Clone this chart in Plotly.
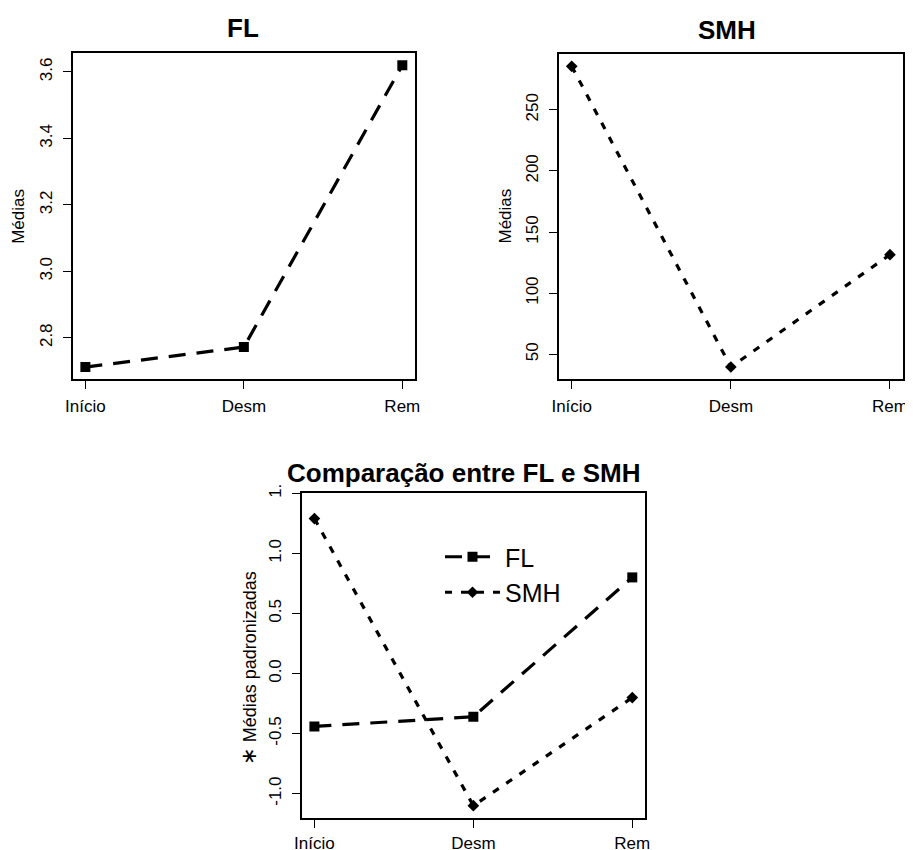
import plotly.graph_objects as go

# ---- data ----
categories = ["Início", "Desm", "Rem"]
fl_means = [2.712, 2.772, 3.620]
smh_means = [285.6, 39.6, 131.5]
fl_std = [-0.44, -0.36, 0.80]
smh_std = [1.29, -1.10, -0.20]

fl_ticks = [2.8, 3.0, 3.2, 3.4, 3.6]
fl_ticklabels = ["2.8", "3.0", "3.2", "3.4", "3.6"]
smh_ticks = [50, 100, 150, 200, 250]
smh_ticklabels = ["50", "100", "150", "200", "250"]
cmp_ticks = [-1.0, -0.5, 0.0, 0.5, 1.0, 1.5]
cmp_ticklabels = ["-1.0", "-0.5", "0.0", "0.5", "1.0", "1."]

# page body has a default 8px margin; size the figure so it fills the window
OFF = 8
W, H = 913 - OFF, 850 - OFF
FONT = "Liberation Sans, Arial, Helvetica, sans-serif"

def px_x(p):
    return (p - OFF) / W

def px_y(p):
    return 1 - (p - OFF) / H

FL_DASH = "17px,11px"
SMH_DASH = "7px,9px"
LW = 3.2

fig = go.Figure()

x_idx = [1, 2, 3]

fig.add_trace(go.Scatter(
    x=x_idx, y=fl_means, xaxis="x", yaxis="y", mode="lines+markers",
    line=dict(color="black", width=LW, dash=FL_DASH),
    marker=dict(symbol="square", size=10, color="black"), showlegend=False))
fig.add_trace(go.Scatter(
    x=x_idx, y=smh_means, xaxis="x2", yaxis="y2", mode="lines+markers",
    line=dict(color="black", width=LW, dash=SMH_DASH),
    marker=dict(symbol="diamond", size=9, color="black"), showlegend=False))
fig.add_trace(go.Scatter(
    x=x_idx, y=fl_std, xaxis="x3", yaxis="y3", mode="lines+markers", name="FL",
    line=dict(color="black", width=LW, dash=FL_DASH),
    marker=dict(symbol="square", size=10, color="black"), showlegend=True))
fig.add_trace(go.Scatter(
    x=x_idx, y=smh_std, xaxis="x3", yaxis="y3", mode="lines+markers", name="SMH",
    line=dict(color="black", width=LW, dash=SMH_DASH),
    marker=dict(symbol="diamond", size=9, color="black"), showlegend=True))

def xaxis(domain, anchor, standoff=3):
    return dict(domain=domain, anchor=anchor, range=[0.92, 3.08], automargin=False,
                tickmode="array", tickvals=x_idx, ticktext=categories,
                ticks="outside", ticklen=8, tickwidth=1.3, tickcolor="black",
                showline=True, linecolor="black", linewidth=1.6, mirror=True,
                showgrid=False, zeroline=False, ticklabelstandoff=standoff,
                tickfont=dict(family=FONT, size=17, color="black"))

def yaxis(domain, anchor, rng, tv, tt):
    return dict(domain=domain, anchor=anchor, range=rng, automargin=False,
                tickmode="array", tickvals=tv, ticktext=tt, tickangle=-90,
                ticks="outside", ticklen=8, tickwidth=1.3, tickcolor="black",
                showline=True, linecolor="black", linewidth=1.6, mirror=True,
                showgrid=False, zeroline=False, ticklabelstandoff=4,
                tickfont=dict(family=FONT, size=17, color="black"))

fig.update_layout(
    width=W, height=H, margin=dict(l=0, r=0, t=0, b=0, autoexpand=False),
    paper_bgcolor="white", plot_bgcolor="white",
    xaxis=xaxis([px_x(72.7), px_x(415)], "y"),
    yaxis=yaxis([px_y(379), px_y(53.3)], "x", [2.676, 3.656], fl_ticks, fl_ticklabels),
    xaxis2=xaxis([px_x(559), px_x(902.7)], "y2"),
    yaxis2=yaxis([px_y(379), px_y(54.3)], "x2", [29.8, 295.4], smh_ticks, smh_ticklabels),
    xaxis3=xaxis([px_x(301.7), px_x(645)], "y3", standoff=1),
    yaxis3=yaxis([px_y(817.7), px_y(493.3)], "x3", [-1.2, 1.5], cmp_ticks, cmp_ticklabels),
    legend=dict(x=px_x(440), y=px_y(534), xanchor="left", yanchor="top",
                bgcolor="rgba(0,0,0,0)", borderwidth=0, tracegroupgap=0,
                itemwidth=55,
                font=dict(family=FONT, size=25, color="black")),
    showlegend=True,
)

def ann(text, x, y, size, bold=False, angle=0):
    fig.add_annotation(text=f"<b>{text}</b>" if bold else text,
                       x=px_x(x), y=px_y(y), xref="paper", yref="paper",
                       showarrow=False, textangle=angle,
                       xanchor="center", yanchor="middle",
                       font=dict(family=FONT, size=size, color="black"))

ann("FL", 243, 28, 26, bold=True)
ann("SMH", 727, 30, 26, bold=True)
ann("Comparação entre FL e SMH", 464, 473, 26, bold=True)
ann("Médias", 18.3, 216.5, 17, angle=-90)
ann("Médias", 505, 216.5, 17, angle=-90)
ann('<span style="font-size:21px">∗</span> Médias padronizadas', 248.3, 668, 18, angle=-90)

fig.write_html("out.html")
